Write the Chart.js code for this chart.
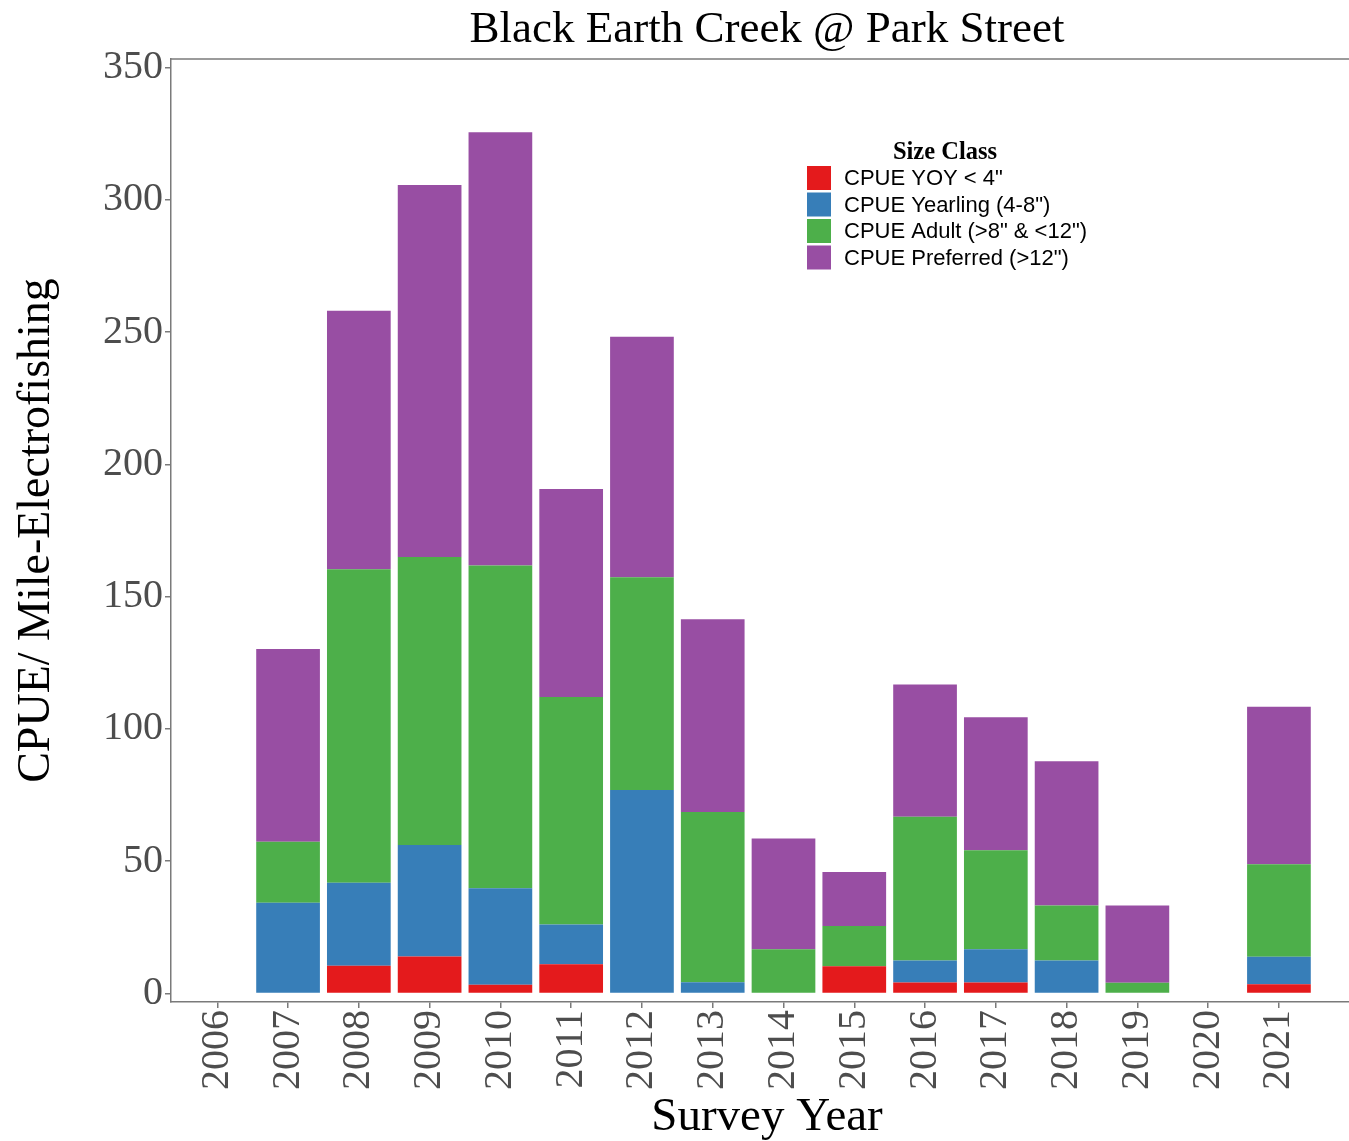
<!DOCTYPE html>
<html>
<head>
<meta charset="utf-8">
<script src="https://cdn.jsdelivr.net/npm/chart.js@4"></script>
<style>
  html, body { margin: 0; padding: 0; background: #fff; }
  #wrap { width: 1349px; height: 1141px; position: relative; }
</style>
</head>
<body>
<div id="wrap"><canvas id="c" width="1349" height="1141"></canvas></div>
<script>
const chartTitle = "Black Earth Creek @ Park Street";
const xTitle = "Survey Year";
const yTitle = "CPUE/ Mile-Electrofishing";
const legendTitle = "Size Class";

const years = [2006, 2007, 2008, 2009, 2010, 2011, 2012, 2013, 2014, 2015, 2016, 2017, 2018, 2019, 2020, 2021];
const seriesNames = ['CPUE YOY < 4"', 'CPUE Yearling (4-8")', 'CPUE Adult (>8" & <12")', 'CPUE Preferred (>12")'];
const yoy       = [null, 0,    10.5, 14.0, 3.3,  11.1, 0,    0,    0,    10.3, 4.2,  4.2,  0,    0,    null, 3.5];
const yearling  = [null, 34.3, 31.4, 42.1, 36.5, 15.0, 76.9, 4.3,  0,    0,    8.3,  12.5, 12.5, 0,    null, 10.4];
const adult     = [null, 23.1, 118.5,108.9,122.0,86.0, 80.4, 64.3, 16.7, 15.2, 54.3, 37.5, 20.8, 4.1,  null, 35.0];
const preferred = [null, 72.8, 97.7, 140.6,163.7,78.6, 90.9, 72.9, 41.9, 20.4, 50.0, 50.2, 54.5, 29.2, null, 59.5];
const yTicks = [0, 50, 100, 150, 200, 250, 300, 350];
const colors = ['#E41A1C', '#377EB8', '#4DAF4A', '#984EA3'];

const seriesValues = [yoy, yearling, adult, preferred];
const datasets = seriesValues.map((arr, k) => ({
  label: seriesNames[k],
  data: years.map((yr, i) => ({ x: yr, y: arr[i] })),
  backgroundColor: colors[k],
  borderWidth: 0,
  categoryPercentage: 1.0,
  barPercentage: 0.9
}));

const SERIF = "'Liberation Serif', 'Times New Roman', serif";
const SANS = "'Liberation Sans', Arial, sans-serif";
const FRAME = '#7a7a7a';

const decor = {
  id: 'decor',
  afterDraw(chart) {
    const ctx = chart.ctx;
    const a = chart.chartArea;
    ctx.save();
    // top frame line
    ctx.strokeStyle = FRAME;
    ctx.lineWidth = 1.5;
    ctx.beginPath();
    ctx.moveTo(a.left, a.top);
    ctx.lineTo(a.right, a.top);
    ctx.stroke();

    // title
    ctx.fillStyle = '#000';
    ctx.textAlign = 'center';
    ctx.textBaseline = 'alphabetic';
    ctx.font = "45px " + SERIF;
    ctx.fillText(chartTitle, 767, 42);

    // x title
    ctx.font = "47px " + SERIF;
    ctx.fillText(xTitle, 767, 1130);

    // y title
    ctx.save();
    ctx.font = "46px " + SERIF;
    ctx.translate(49, (a.top + a.bottom) / 2);
    ctx.rotate(-Math.PI / 2);
    ctx.textAlign = 'center';
    ctx.fillText(yTitle, 0, 0);
    ctx.restore();

    // legend
    ctx.font = "bold 24.5px " + SERIF;
    ctx.textAlign = 'center';
    ctx.fillText(legendTitle, 945, 159);
    ctx.font = "22px " + SANS;
    ctx.textAlign = 'left';
    ctx.textBaseline = 'middle';
    chart.data.datasets.forEach((ds, k) => {
      const cy = 178 + k * 26.5;
      ctx.fillStyle = ds.backgroundColor;
      ctx.fillRect(807, cy - 12, 24, 24);
      ctx.fillStyle = '#000';
      ctx.fillText(ds.label, 844, cy + 1);
    });
    ctx.restore();
  }
};

new Chart(document.getElementById('c'), {
  type: 'bar',
  data: { datasets },
  options: {
    responsive: false,
    animation: false,
    layout: { padding: { left: 0, right: 0, top: 59, bottom: 0 } },
    plugins: {
      legend: { display: false },
      title: { display: false },
      tooltip: { enabled: false }
    },
    scales: {
      x: {
        type: 'linear',
        stacked: true,
        offset: false,
        min: 2005.346,
        max: 2021.99,
        afterBuildTicks: (scale) => { scale.ticks = years.map(v => ({ value: v })); },
        afterFit: (scale) => { scale.height = 139; },
        grid: { offset: false, drawOnChartArea: false, drawTicks: true, tickLength: 6, color: FRAME, lineWidth: 1.5 },
        border: { display: true, color: FRAME, width: 1.5 },
        ticks: {
          autoSkip: false,
          minRotation: 90,
          maxRotation: 90,
          padding: 2,
          color: '#4D4D4D',
          font: { family: SERIF, size: 40 },
          callback: (v) => String(v)
        }
      },
      y: {
        type: 'linear',
        stacked: true,
        min: -3.2,
        max: 353.2,
        afterBuildTicks: (scale) => { scale.ticks = yTicks.map(v => ({ value: v })); },
        afterFit: (scale) => { scale.width = 171; },
        grid: { drawOnChartArea: false, drawTicks: true, tickLength: 6, color: FRAME, lineWidth: 1.5 },
        border: { display: true, color: FRAME, width: 1.5 },
        ticks: {
          padding: 2,
          color: '#4D4D4D',
          font: { family: SERIF, size: 40 },
          callback: (v) => String(v)
        }
      }
    }
  },
  plugins: [decor]
});
</script>
</body>
</html>
